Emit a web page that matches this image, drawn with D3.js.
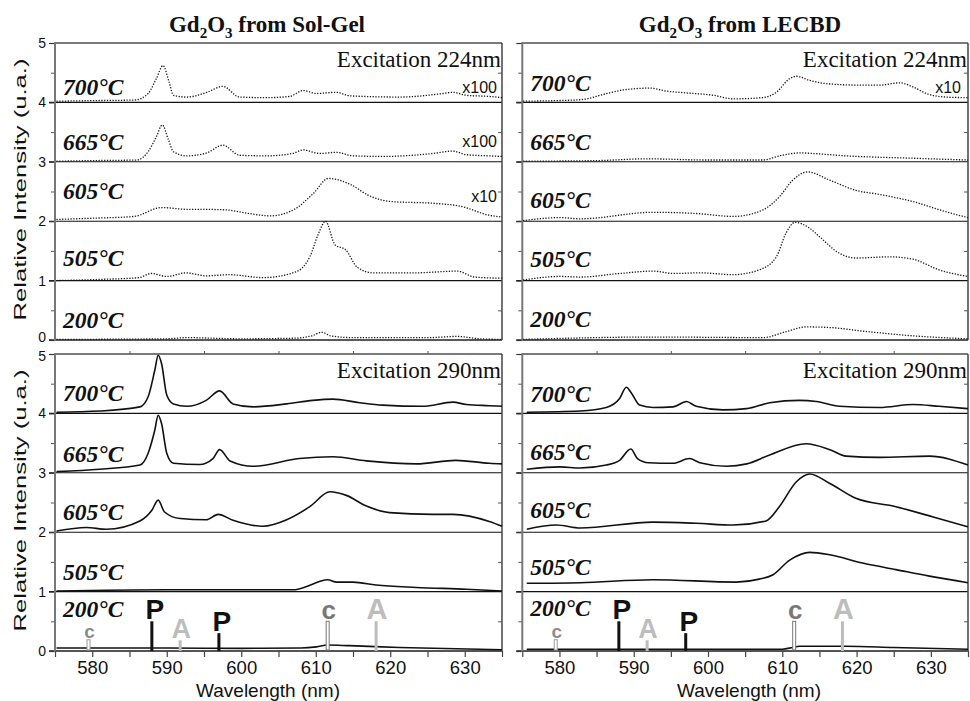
<!DOCTYPE html>
<html>
<head>
<meta charset="utf-8">
<script src="https://cdnjs.cloudflare.com/ajax/libs/d3/7.8.5/d3.min.js"></script>
<style>
  body { margin: 0; background: #fff; }
  .tick text { font-family: "Liberation Sans", Arial, sans-serif; fill: #111; }
  .serif { font-family: "Liberation Serif", "Times New Roman", serif; }
  .sans { font-family: "Liberation Sans", Arial, sans-serif; }
</style>
</head>
<body>
<svg id="chart" width="970" height="701"></svg>
<script>
(function() {
    'use strict';

    // ---- data (wavelength nm, intensity above the row baseline) ----
    var temperatures = ["700°C", "665°C", "605°C", "505°C", "200°C"];
    var rowBase = [4, 3, 2, 1, 0];
    var xTicks = [575, 580, 585, 590, 595, 600, 605, 610, 615, 620, 625, 630, 635];
    var yMajor = [0, 1, 2, 3, 4, 5];
    var yMinor = [0.5, 1.5, 2.5, 3.5, 4.5];

    // Sol-Gel, excitation 224nm
    var sg224_700 = [[575.2,.02],[580,.03],[585.7,.04],[587.5,.15],[588.6,.4],[589.5,.62],[590.3,.35],[590.9,.12],[592.7,.09],[595.4,.17],[597.5,.27],[599.8,.09],[603.4,.08],[606.5,.1],[608.3,.2],[610.1,.15],[612.8,.17],[614.6,.11],[621.3,.09],[627.1,.15],[628.4,.17],[630.2,.12],[633.3,.1],[635,.08]];
    var sg224_665 = [[575.2,.01],[580,.02],[586,.03],[587.5,.17],[588.6,.42],[589.4,.62],[590.2,.38],[590.9,.17],[592.7,.1],[595.4,.15],[597.5,.28],[599.8,.11],[603.4,.1],[606.9,.14],[608.3,.2],[610.5,.14],[612.8,.16],[615,.1],[619,.09],[625.7,.14],[628.4,.18],[630.2,.12],[633.3,.1],[635,.09]];
    var sg224_605 = [[575.2,.03],[580,.05],[585.6,.08],[589.3,.23],[592.7,.2],[594.5,.2],[598,.19],[601,.13],[603.9,.09],[607,.19],[609.7,.47],[611.7,.72],[614.8,.61],[617,.44],[620.2,.33],[626,.3],[629.5,.25],[633.3,.1],[635,.07]];
    var sg224_505 = [[575.2,0],[581,.02],[586.3,.05],[587.9,.12],[590,.07],[592.6,.13],[595.3,.08],[598.4,.1],[602.9,.05],[607.4,.15],[609.2,.4],[610.4,.8],[611.3,1],[612.6,.6],[614,.52],[615.6,.22],[617.8,.13],[623.2,.13],[629,.16],[631.3,.06],[635,.04]];
    var sg224_200 = [[575.2,.01],[590,.02],[592.6,.04],[600,.02],[607,.03],[609.5,.07],[610.8,.13],[612,.07],[615,.04],[625,.04],[629,.06],[632,.02],[635,.01]];

    // LECBD, excitation 224nm
    var lb224_700 = [[575.1,.02],[582.8,.045],[586.4,.15],[588.6,.21],[592.2,.24],[594.4,.19],[597.1,.16],[600.7,.12],[603.4,.06],[607.4,.08],[609.2,.17],[611,.4],[611.9,.44],[613.7,.37],[616.4,.31],[620.9,.29],[623.1,.29],[625.8,.33],[627.6,.26],[629.4,.15],[632,.09],[635,.08]];
    var lb224_665 = [[575.1,.01],[585,.02],[591.7,.05],[600,.03],[607.4,.03],[609.6,.1],[612.5,.15],[614.1,.14],[618.6,.1],[627.6,.06],[635,.03]];
    var lb224_605 = [[575.1,.01],[580.1,.06],[582.8,.04],[592.6,.15],[598.4,.13],[603.4,.08],[607.4,.19],[609.6,.41],[611.4,.69],[613.4,.83],[616.4,.69],[619.9,.52],[623.1,.45],[627.6,.33],[632,.16],[635,.06]];
    var lb224_505 = [[575.1,.01],[580.1,.07],[582.8,.06],[588.1,.12],[592.6,.16],[595.3,.12],[598.9,.13],[603.4,.1],[606.9,.18],[609.2,.4],[610.5,.8],[611.7,.98],[613.7,.88],[615,.74],[617.7,.46],[619.9,.38],[624.4,.4],[627.6,.36],[631.1,.18],[635,.07]];
    var lb224_200 = [[575.1,.01],[592.6,.05],[607.4,.04],[610.5,.14],[613.2,.22],[616.4,.21],[620.8,.15],[627.6,.07],[635,.02]];

    // Sol-Gel, excitation 290nm
    var sg290_700 = [[575.2,.02],[581,.04],[586.4,.11],[587.5,.28],[588.4,.73],[588.85,.98],[589.3,.84],[590,.31],[590.9,.16],[592.7,.12],[595.3,.22],[597.1,.38],[598.9,.16],[601.6,.11],[606.1,.16],[609.6,.22],[612.3,.24],[615.9,.18],[619,.14],[624.4,.12],[628.4,.19],[630.2,.15],[633.3,.13],[635,.12]];
    var sg290_665 = [[575.2,.02],[581,.06],[586.4,.13],[587.5,.33],[588.4,.72],[588.85,.97],[589.3,.83],[590,.33],[590.9,.16],[594.4,.14],[596.2,.24],[597.1,.39],[598.5,.2],[601.6,.11],[607.8,.24],[612.3,.27],[616.8,.2],[623.5,.15],[628.8,.21],[633.3,.16],[635,.15]];
    var sg290_605 = [[575.2,.02],[579.2,.08],[581.9,.05],[586.4,.19],[588,.37],[588.85,.54],[589.7,.34],[591.8,.23],[595.3,.21],[596.9,.3],[598.9,.2],[602.9,.1],[606.1,.21],[609.2,.43],[611.9,.68],[614.1,.62],[616.8,.44],[619.9,.33],[625.7,.3],[628.4,.3],[633.3,.18],[635,.1]];
    var sg290_505 = [[575.2,.01],[590,.03],[600,.03],[607,.03],[608.7,.08],[610.5,.17],[611.6,.2],[612.8,.16],[615,.16],[618.1,.11],[623.5,.07],[630.2,.04],[635,.01]];
    var sg290_200 = [[575.2,.05],[590,.05],[600,.045],[608,.05],[610.1,.07],[611.6,.1],[614.5,.09],[621.2,.06],[635,.02]];

    // LECBD, excitation 290nm
    var lb290_700 = [[575.6,.02],[582.8,.04],[586.3,.1],[588.1,.25],[589,.44],[589.7,.34],[590.8,.14],[592.6,.1],[595.3,.11],[597.1,.2],[598.4,.12],[602,.06],[605.2,.08],[608.3,.18],[612.3,.22],[614.6,.2],[617.7,.12],[623.1,.1],[627.6,.15],[631.1,.12],[635,.08]];
    var lb290_665 = [[575.6,.06],[580.1,.1],[582.8,.08],[586.3,.13],[588.1,.21],[589.6,.4],[590.5,.24],[592,.17],[595.3,.16],[597.5,.24],[598.9,.17],[602.5,.11],[605.2,.15],[608.3,.3],[613.2,.49],[616.4,.39],[618.6,.28],[623.1,.26],[629.8,.28],[635,.13]];
    var lb290_605 = [[575.6,.05],[579.6,.12],[582.8,.07],[592.6,.17],[598.4,.15],[603.4,.12],[607.8,.19],[609.6,.43],[611.9,.85],[613.7,.98],[616.4,.82],[619.9,.57],[625.3,.43],[630.2,.26],[635,.09]];
    var lb290_505 = [[575.6,.14],[582.8,.15],[592.6,.2],[603.8,.16],[606.9,.21],[608.7,.28],[611,.53],[613.7,.66],[616.4,.62],[620.8,.48],[625.3,.37],[629.8,.26],[635,.15]];
    var lb290_200 = [[575.6,.03],[600,.03],[610,.03],[611.4,.06],[612.3,.08],[618.6,.08],[625,.06],[635,.03]];

    // emission line markers in the 200°C rows
    var markerLabels = ["c", "P", "A", "P", "c", "A"];
    var markerWavelengths = [579.5, 588, 591.8, 597, 611.6, 618.1];
    var markerHeights = [0.19, 0.5, 0.18, 0.3, 0.5, 0.5];

    // multiplication factors written on the 224nm rows
    var sgFactors = ["x100", "x100", "x10", "", ""];
    var lbFactors = ["x10", "", "", "", ""];

    // ---- layout ----
    var svg = d3.select("#chart");
    var xLeft = d3.scaleLinear().domain([575, 635]).range([55, 502]);
    var xRight = d3.scaleLinear().domain([575, 635]).range([522.3, 968]);
    var yTop = d3.scaleLinear().domain([0, 5]).range([340, 43]);
    var yBottom = d3.scaleLinear().domain([0, 5]).range([651, 354]);

    var markerFont = [19, 28, 27, 28, 26, 29];
    var markerColor = {c: "#8c8c8c", P: "#111", A: "#bdbdbd"};

    var panels = [
        {x: xLeft,  y: yTop,    curves: [sg224_700, sg224_665, sg224_605, sg224_505, sg224_200], dotted: true,  left: true,  bottom: false, exc: "Excitation 224nm", factors: sgFactors, factorX: 497, lift: [0.13, 0.2, 0.38, 0.24, 0.2]},
        {x: xRight, y: yTop,    curves: [lb224_700, lb224_665, lb224_605, lb224_505, lb224_200], dotted: true,  left: false, bottom: false, exc: "Excitation 224nm", factors: lbFactors, factorX: 961, lift: [0.2, 0.2, 0.22, 0.23, 0.22]},
        {x: xLeft,  y: yBottom, curves: [sg290_700, sg290_665, sg290_605, sg290_505, sg290_200], dotted: false, left: true,  bottom: true,  exc: "Excitation 290nm", factors: null, lift: [0.21, 0.19, 0.21, 0.2, 0.58]},
        {x: xRight, y: yBottom, curves: [lb290_700, lb290_665, lb290_605, lb290_505, lb290_200], dotted: false, left: false, bottom: true,  exc: "Excitation 290nm", factors: null, lift: [0.2, 0.22, 0.24, 0.28, 0.59]}
    ];

    function hline(g, x1, x2, yy, color, w) {
        g.append("line").attr("x1", x1).attr("x2", x2).attr("y1", yy).attr("y2", yy)
            .attr("stroke", color).attr("stroke-width", w);
    }
    function vline(g, xx, y1, y2, color, w) {
        g.append("line").attr("x1", xx).attr("x2", xx).attr("y1", y1).attr("y2", y2)
            .attr("stroke", color).attr("stroke-width", w);
    }

    panels.forEach(function(p) {
        var g = svg.append("g");
        var x = p.x, y = p.y;
        var x0 = x(575), x1 = x(635);

        // separators between temperature rows
        [1, 2, 3, 4].forEach(function(v) { hline(g, x0 - 6, x1, y(v), "#111", 1.1); });

        // frame
        hline(g, x0, x1, y(5), "#7a7a7a", 2);
        if (p.bottom) hline(g, x0 - 6, x1, y(0), "#555", 1.8);
        else hline(g, x0 - 6, x1, y(0), "#222", 1.3);
        vline(g, x1, y(0), y(5), "#444", 1.5);

        // left ticks
        var major = g.append("g").attr("transform", "translate(" + x0 + ",0)")
            .call(d3.axisLeft(y).tickValues(yMajor).tickSize(6).tickPadding(3)
                .tickFormat(p.left ? d3.format("d") : function() { return ""; }));
        major.select(".domain").remove();
        major.selectAll(".tick line").attr("stroke", "#333").attr("stroke-width", 1.2);
        major.selectAll(".tick text").style("font-size", "14px")
            .attr("dy", function(d) {
                if (!p.bottom && d === 0) return "0.1em";
                if (p.bottom && d === 5) return "0.45em";
                return "0.32em";
            });

        var minor = g.append("g").attr("transform", "translate(" + x0 + ",0)")
            .call(d3.axisLeft(y).tickValues(yMinor).tickSize(4).tickFormat(""));
        minor.select(".domain").remove();
        minor.selectAll(".tick line").attr("stroke", "#555");

        // inside ticks on the right border
        var mirror = g.append("g").attr("transform", "translate(" + x1 + ",0)")
            .call(d3.axisLeft(y).tickValues(yMinor).tickSize(4).tickFormat(""));
        mirror.select(".domain").remove();
        mirror.selectAll(".tick line").attr("stroke", "#555");

        vline(g, x0, y(0) + 1, y(5) - 1, "#777", 2);

        if (p.bottom) {
            var xa = g.append("g").attr("transform", "translate(0," + y(0) + ")")
                .call(d3.axisBottom(x).tickValues(xTicks).tickSize(6).tickPadding(4)
                    .tickFormat(function(d) { return (d % 10 === 0) ? d : ""; }));
            xa.select(".domain").remove();
            xa.selectAll(".tick line").attr("stroke", "#444").attr("stroke-width", 1.2);
            xa.selectAll(".tick text").style("font-size", "18.5px");

            var xt = g.append("g").attr("transform", "translate(0," + y(5) + ")")
                .call(d3.axisTop(x).tickValues([585, 595, 605, 615, 625]).tickSize(3).tickFormat(""));
            xt.select(".domain").remove();
            xt.selectAll(".tick line").attr("stroke", "#555");
        }

        // spectra
        var line = d3.line()
            .x(function(d) { return x(d[0]); })
            .curve(d3.curveMonotoneX);
        p.curves.forEach(function(c, i) {
            line.y(function(d) { return y(rowBase[i] + d[1]); });
            var path = g.append("path").datum(c)
                .attr("d", line)
                .attr("fill", "none")
                .attr("stroke", p.dotted ? "#1a1a1a" : "#111")
                .attr("stroke-width", p.dotted ? 1.3 : 1.6);
            if (p.dotted) path.attr("stroke-dasharray", "1.3,1.5");
        });

        // temperature labels
        temperatures.forEach(function(t, i) {
            g.append("text").attr("class", "serif")
                .attr("x", x0 + 8).attr("y", y(rowBase[i] + p.lift[i]))
                .style("font-size", "23.5px").style("font-weight", "bold").style("font-style", "italic")
                .attr("fill", "#111").text(t);
        });

        // excitation caption
        g.append("text").attr("class", "serif")
            .attr("x", x1 - 1).attr("y", y(5) + 24)
            .attr("text-anchor", "end").style("font-size", "23px").attr("fill", "#111")
            .text(p.exc);

        if (p.factors) {
            var factorLift = [0.15, 0.25, 0.32, 0, 0];
            p.factors.forEach(function(f, i) {
                if (!f) return;
                g.append("text").attr("class", "sans")
                    .attr("x", p.factorX).attr("y", y(rowBase[i] + factorLift[i]))
                    .attr("text-anchor", "end").style("font-size", "16px").attr("fill", "#111")
                    .text(f);
            });
        }

        if (p.left) {
            var cy = (y(0) + y(5)) / 2 - 2;
            g.append("text").attr("class", "sans")
                .attr("transform", "translate(26," + cy + ") rotate(-90)")
                .attr("text-anchor", "middle")
                .attr("textLength", 262).attr("lengthAdjust", "spacingAndGlyphs")
                .style("font-size", "17px").attr("fill", "#111")
                .text("Relative Intensity (u.a.)");
        }

        if (p.bottom) {
            g.append("text").attr("class", "sans")
                .attr("x", p.left ? 268 : 749).attr("y", 697)
                .attr("text-anchor", "middle").style("font-size", "19px").attr("fill", "#111")
                .text("Wavelength (nm)");

            // emission line markers
            markerLabels.forEach(function(m, i) {
                var mx = x(markerWavelengths[i]);
                var top = y(markerHeights[i]);
                if (m === "c") {
                    g.append("rect").attr("x", mx - 1.5).attr("y", top)
                        .attr("width", 3).attr("height", y(0) - top - 1)
                        .attr("fill", "#fff").attr("stroke", i === 0 ? "#999" : "#777").attr("stroke-width", 1);
                } else {
                    g.append("rect").attr("x", mx - 1.5).attr("y", top)
                        .attr("width", 3).attr("height", y(0) - top)
                        .attr("fill", markerColor[m]);
                }
                g.append("text").attr("class", "sans")
                    .attr("x", mx + (m === "P" ? 3 : 1)).attr("y", top - 2)
                    .attr("text-anchor", "middle")
                    .style("font-size", markerFont[i] + "px").style("font-weight", "bold")
                    .attr("fill", m === "c" && i === 4 ? "#777" : markerColor[m])
                    .text(m);
            });
        }
    });

    // titles
    function title(cx, rest) {
        var t = svg.append("text").attr("class", "serif")
            .attr("x", cx).attr("y", 32).attr("text-anchor", "middle")
            .style("font-size", "23px").style("font-weight", "bold").attr("fill", "#111");
        t.append("tspan").text("Gd");
        t.append("tspan").attr("dy", 6).style("font-size", "15px").text("2");
        t.append("tspan").attr("dy", -6).text("O");
        t.append("tspan").attr("dy", 6).style("font-size", "15px").text("3");
        t.append("tspan").attr("dy", -6).text(" " + rest);
    }
    title(267, "from Sol-Gel");
    title(740, "from LECBD");
})();
</script>
</body>
</html>
